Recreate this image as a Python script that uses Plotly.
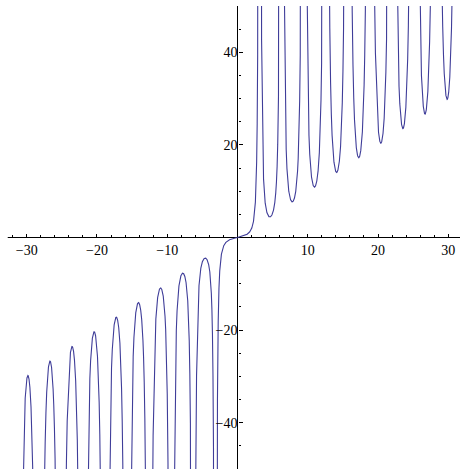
import numpy as np
import plotly.graph_objects as go

# ---- chart description (function plot) ----
x_min, x_max = -10 * np.pi, 10 * np.pi          # plotted domain
y_min, y_max = -50, 50                           # plot range
x_major = [-30, -20, -10, 10, 20, 30]
x_major_text = ["\u221230", "\u221220", "\u221210", "10", "20", "30"]
x_minor = [v for v in range(-32, 33, 2) if v % 10 != 0]
y_major = [-40, -20, 20, 40]
y_major_text = ["\u221240", "\u221220", "20", "40"]
y_minor = [v for v in range(-50, 51, 5) if v % 20 != 0 and v != 0]
curve_color = "#3f3d99"


def f(x):
    s = np.sin(x)
    return x / s**2 - 1.0 / x


# sample the function, breaking the line at each pole x = k*pi
xs, ys = [], []
for k in range(-10, 10):
    a, b = k * np.pi, (k + 1) * np.pi
    t = np.linspace(a, b, 4001)[1:-1]
    y = f(t)
    xs.extend(t.tolist()); ys.extend(np.clip(y, -400, 400).tolist())
    xs.append(None); ys.append(None)

W, H = 460, 470
ml, mr, mt, mb = 0, 0, 6, 1
scale = 7.027
x0 = (0 - 237.5) / scale
x1 = (W - 237.5) / scale

fig = go.Figure()
fig.add_trace(go.Scatter(x=xs, y=ys, mode="lines",
                         line=dict(color=curve_color, width=1.1),
                         hoverinfo="skip", showlegend=False))

font = dict(family="Liberation Serif, Times New Roman, serif", size=14, color="black")

fig.update_layout(
    width=W, height=H,
    margin=dict(l=ml, r=mr, t=mt, b=mb),
    paper_bgcolor="white", plot_bgcolor="white",
    xaxis=dict(range=[x0, x1], showgrid=False, zeroline=False, showline=False,
               anchor="free", position=0.5, side="bottom",
               tickmode="array", tickvals=x_major, ticktext=x_major_text,
               ticks="inside", ticklen=4, tickwidth=1, tickcolor="black",
               tickfont=font, ticklabelstandoff=2,
               minor=dict(tickmode="array", tickvals=x_minor, ticks="inside",
                          ticklen=2.5, tickwidth=1, tickcolor="black")),
    yaxis=dict(range=[y_min, y_max], showgrid=False, zeroline=False, showline=False,
               anchor="free", position=237.5 / W, side="left",
               tickmode="array", tickvals=y_major, ticktext=y_major_text,
               ticks="inside", ticklen=4, tickwidth=1, tickcolor="black",
               tickfont=font, ticklabelstandoff=0,
               minor=dict(tickmode="array", tickvals=y_minor, ticks="inside",
                          ticklen=2.5, tickwidth=1, tickcolor="black")),
    shapes=[
        dict(type="line", xref="x", yref="y", x0=-32.7, x1=32.7, y0=0, y1=0,
             line=dict(color="black", width=1), layer="below"),
        dict(type="line", xref="x", yref="y", x0=0, x1=0, y0=y_min, y1=y_max,
             line=dict(color="black", width=1), layer="below"),
    ],
)

fig.write_html("out.html",
               config={"displayModeBar": False, "staticPlot": True},
               post_script="document.body.style.margin='0';document.body.style.overflow='hidden';")
